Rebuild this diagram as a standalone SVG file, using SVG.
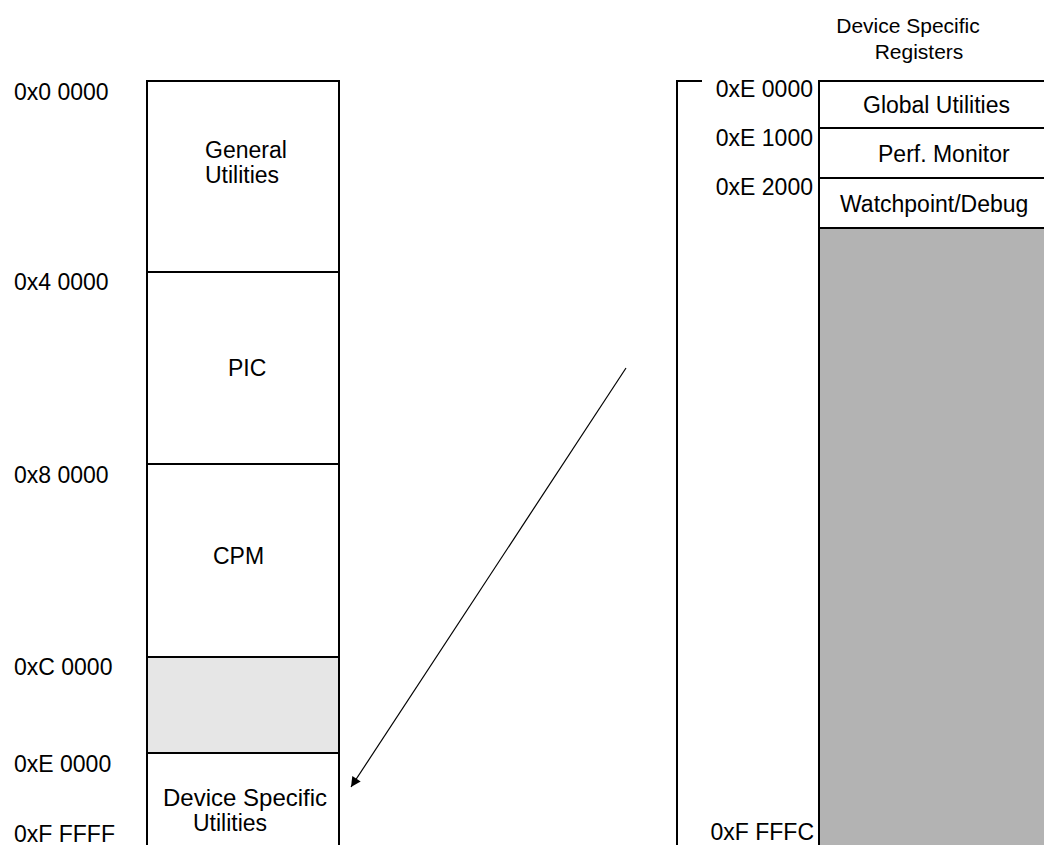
<svg xmlns="http://www.w3.org/2000/svg" width="1044" height="845" viewBox="0 0 1044 845">
<style>
text{font-family:"Liberation Sans",Arial,sans-serif;font-size:23px;fill:#000}
.box{fill:none;stroke:#000;stroke-width:2}
.div{stroke:#000;stroke-width:2}
.end{text-anchor:end}
.hdr{font-size:21px;text-anchor:middle}
</style>
<defs>
<marker id="ah" viewBox="0 0 10 10" refX="10" refY="5" markerWidth="18" markerHeight="10" markerUnits="userSpaceOnUse" orient="auto">
<path d="M0,0 L10,5 L0,10 z" fill="#000"/>
</marker>
</defs>
<rect width="1044" height="845" fill="#fff"/>
<g id="map-left">
<rect x="147" y="657" width="192" height="96" fill="#e6e6e6"/>
<path class="box" d="M147,846 V81 H339 V846"/>
<line class="div" x1="147" y1="272" x2="339" y2="272"/>
<line class="div" x1="147" y1="464" x2="339" y2="464"/>
<line class="div" x1="147" y1="657" x2="339" y2="657"/>
<line class="div" x1="147" y1="753" x2="339" y2="753"/>
</g>
<g id="addr-left">
<text x="14" y="100">0x0 0000</text>
<text x="14" y="290">0x4 0000</text>
<text x="14" y="483">0x8 0000</text>
<text x="14" y="675">0xC 0000</text>
<text x="14" y="772">0xE 0000</text>
<text x="14" y="842">0xF FFFF</text>
</g>
<g id="general-utilities"><text x="205" y="158">General</text><text x="205" y="183">Utilities</text></g>
<g id="pic"><text x="228" y="376">PIC</text></g>
<g id="cpm"><text x="213" y="564">CPM</text></g>
<g id="device-specific-utilities"><text x="163" y="806" style="font-size:24px">Device Specific</text><text x="193" y="831">Utilities</text></g>
<g id="map-right">
<rect x="819" y="228" width="226" height="618" fill="#b3b3b3"/>
<path class="box" d="M702,81 H677 V846"/>
<path class="box" d="M1045,81 H819 V846"/>
<line class="div" x1="819" y1="128" x2="1045" y2="128"/>
<line class="div" x1="819" y1="178" x2="1045" y2="178"/>
<line class="div" x1="819" y1="228" x2="1045" y2="228"/>
</g>
<g id="device-specific-registers"><text class="hdr" x="908" y="33">Device Specific</text><text class="hdr" x="919" y="59">Registers</text></g>
<g id="global-utilities"><text x="863" y="113">Global Utilities</text></g>
<g id="perf-monitor"><text x="878" y="162">Perf. Monitor</text></g>
<g id="watchpoint-debug"><text x="840" y="212">Watchpoint/Debug</text></g>
<g id="addr-right">
<text class="end" x="813" y="97">0xE 0000</text>
<text class="end" x="813" y="146">0xE 1000</text>
<text class="end" x="813" y="195">0xE 2000</text>
<text class="end" x="814" y="840">0xF FFFC</text>
</g>
<g id="connectors">
<line x1="626" y1="368" x2="351" y2="787" stroke="#000" stroke-width="1.2" marker-end="url(#ah)"/>
</g>
</svg>
